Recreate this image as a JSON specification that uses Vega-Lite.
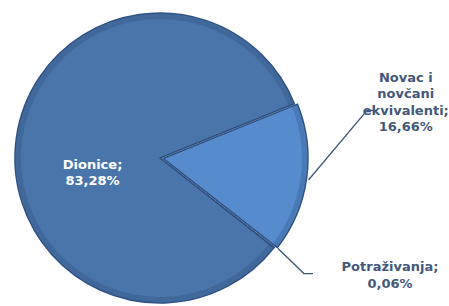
{
  "$schema": "https://vega.github.io/schema/vega-lite/v6.json",
  "width": 449,
  "height": 306,
  "padding": 0,
  "autosize": {"type": "none"},
  "background": "#ffffff",
  "config": {"view": {"stroke": null}},
  "datasets": {
    "slices": [
      {"kategorija": "Novac i novčani ekvivalenti", "start": 0, "end": 16.66, "cx": 2.07, "cy": -0.3},
      {"kategorija": "Potraživanja", "start": 16.66, "end": 16.72, "cx": 0, "cy": 0},
      {"kategorija": "Dionice", "start": 16.72, "end": 100, "cx": 0, "cy": 0}
    ],
    "labels": [
      {"kategorija": "Dionice", "text": ["Dionice;", "83,28%"], "lx": -46.5, "ly": -4.5, "tc": "white"},
      {"kategorija": "Novac i novčani ekvivalenti", "text": ["Novac i", "novčani", "ekvivalenti;", "16,66%"], "lx": 169.5, "ly": 55.5, "tc": "dark"},
      {"kategorija": "Potraživanja", "text": ["Potraživanja;", "0,06%"], "lx": 158.6, "ly": -75.5, "tc": "dark"}
    ],
    "leaders": [
      {"grp": "novac", "ord": 1, "lx": 102.4, "ly": -15.2},
      {"grp": "novac", "ord": 2, "lx": 142.8, "ly": 32.8},
      {"grp": "novac", "ord": 3, "lx": 147.2, "ly": 32.8},
      {"grp": "potr", "ord": 1, "lx": 81.4, "ly": -62.4},
      {"grp": "potr", "ord": 2, "lx": 99.3, "ly": -79.7},
      {"grp": "potr", "ord": 3, "lx": 105.5, "ly": -79.7}
    ]
  },
  "layer": [
    {
      "data": {"name": "slices"},
      "mark": {"type": "arc", "outerRadius": 145, "stroke": "#2f5283", "strokeWidth": 1.5, "strokeJoin": "round"},
      "encoding": {
        "x": {"field": "cx", "type": "quantitative", "scale": {"domain": [-110.3, 199.3]}, "axis": null},
        "y": {"field": "cy", "type": "quantitative", "scale": {"domain": [-102.1, 109.0]}, "axis": null},
        "theta": {"field": "start", "type": "quantitative", "stack": null, "scale": {"domain": [0, 100], "range": [1.187, 7.470]}},
        "theta2": {"field": "end"},
        "color": {
          "field": "kategorija", "type": "nominal", "legend": null,
          "scale": {"domain": ["Dionice", "Novac i novčani ekvivalenti", "Potraživanja"], "range": ["#4a75ab", "#568cce", "#4a75ab"]}
        }
      }
    },
    {
      "data": {"name": "slices"},
      "mark": {"type": "arc", "outerRadius": 144, "innerRadius": 139, "fill": "#1f3a63", "fillOpacity": 0.22, "strokeWidth": 0},
      "encoding": {
        "x": {"field": "cx", "type": "quantitative", "scale": {"domain": [-110.3, 199.3]}, "axis": null},
        "y": {"field": "cy", "type": "quantitative", "scale": {"domain": [-102.1, 109.0]}, "axis": null},
        "theta": {"field": "start", "type": "quantitative", "stack": null, "scale": {"domain": [0, 100], "range": [1.187, 7.470]}},
        "theta2": {"field": "end"}
      }
    },
    {
      "data": {"name": "leaders"},
      "mark": {"type": "line", "color": "#3c5679", "strokeWidth": 1.3},
      "encoding": {
        "x": {"field": "lx", "type": "quantitative", "scale": {"domain": [-110.3, 199.3]}, "axis": null},
        "y": {"field": "ly", "type": "quantitative", "scale": {"domain": [-102.1, 109.0]}, "axis": null},
        "detail": {"field": "grp"},
        "order": {"field": "ord"}
      }
    },
    {
      "data": {"name": "labels"},
      "mark": {"type": "text", "font": "DejaVu Sans", "fontWeight": "bold", "fontSize": 13, "lineHeight": 16.5, "align": "center", "baseline": "middle"},
      "encoding": {
        "x": {"field": "lx", "type": "quantitative", "scale": {"domain": [-110.3, 199.3]}, "axis": null},
        "y": {"field": "ly", "type": "quantitative", "scale": {"domain": [-102.1, 109.0]}, "axis": null},
        "text": {"field": "text"},
        "color": {"field": "tc", "type": "nominal", "legend": null, "scale": {"domain": ["white", "dark"], "range": ["#ffffff", "#44587a"]}}
      }
    }
  ],
  "resolve": {"scale": {"color": "independent"}}
}
